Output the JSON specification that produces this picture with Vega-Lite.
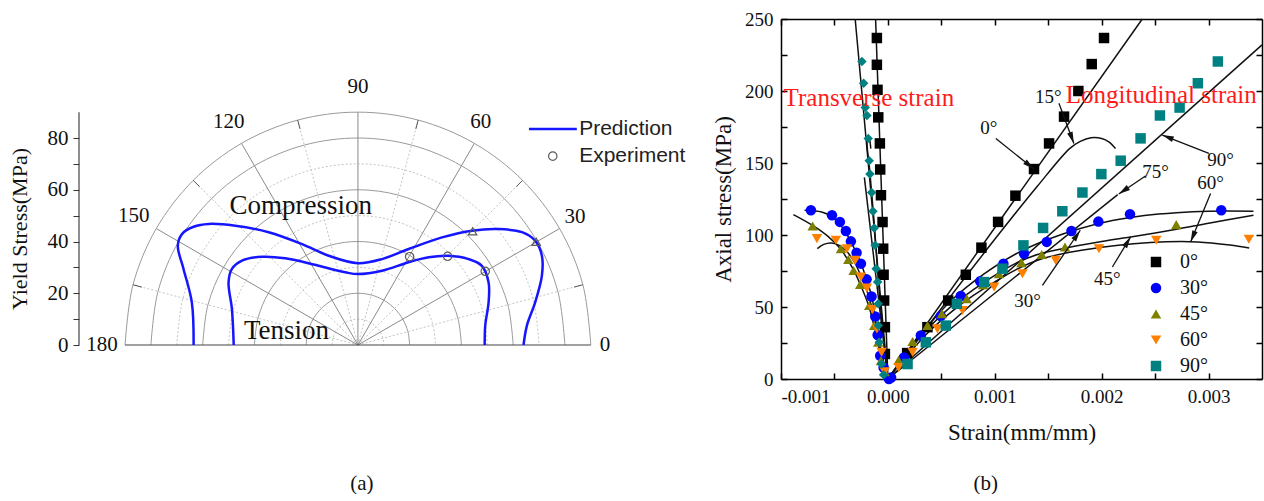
{
 "$schema": "https://vega.github.io/schema/vega-lite/v6.json",
 "background": "white",
 "padding": {"left": 8, "top": 10, "right": 0, "bottom": 0},
 "bounds": "flush",
 "spacing": 88,
 "config": {"view": {"stroke": null}, "font": "Liberation Serif"},
 "hconcat": [
  {
   "width": 614, "height": 326,
   "layer": [
    {
     "data": {"values": [
      {"r":10,"x":10,"y":0},{"r":10,"x":9.66,"y":2.59},{"r":10,"x":8.66,"y":5},{"r":10,"x":7.07,"y":7.07},{"r":10,"x":5,"y":8.66},{"r":10,"x":2.59,"y":9.66},{"r":10,"x":0,"y":10},{"r":10,"x":-2.59,"y":9.66},{"r":10,"x":-5,"y":8.66},{"r":10,"x":-7.07,"y":7.07},{"r":10,"x":-8.66,"y":5},{"r":10,"x":-9.66,"y":2.59},{"r":10,"x":-10,"y":0},
      {"r":30,"x":30,"y":0},{"r":30,"x":28.98,"y":7.76},{"r":30,"x":25.98,"y":15},{"r":30,"x":21.21,"y":21.21},{"r":30,"x":15,"y":25.98},{"r":30,"x":7.76,"y":28.98},{"r":30,"x":0,"y":30},{"r":30,"x":-7.76,"y":28.98},{"r":30,"x":-15,"y":25.98},{"r":30,"x":-21.21,"y":21.21},{"r":30,"x":-25.98,"y":15},{"r":30,"x":-28.98,"y":7.76},{"r":30,"x":-30,"y":0},
      {"r":50,"x":50,"y":0},{"r":50,"x":48.3,"y":12.94},{"r":50,"x":43.3,"y":25},{"r":50,"x":35.36,"y":35.36},{"r":50,"x":25,"y":43.3},{"r":50,"x":12.94,"y":48.3},{"r":50,"x":0,"y":50},{"r":50,"x":-12.94,"y":48.3},{"r":50,"x":-25,"y":43.3},{"r":50,"x":-35.36,"y":35.36},{"r":50,"x":-43.3,"y":25},{"r":50,"x":-48.3,"y":12.94},{"r":50,"x":-50,"y":0},
      {"r":70,"x":70,"y":0},{"r":70,"x":67.62,"y":18.12},{"r":70,"x":60.62,"y":35},{"r":70,"x":49.5,"y":49.5},{"r":70,"x":35,"y":60.62},{"r":70,"x":18.12,"y":67.62},{"r":70,"x":0,"y":70},{"r":70,"x":-18.12,"y":67.62},{"r":70,"x":-35,"y":60.62},{"r":70,"x":-49.5,"y":49.5},{"r":70,"x":-60.62,"y":35},{"r":70,"x":-67.62,"y":18.12},{"r":70,"x":-70,"y":0}
     ]},
     "mark": {"type": "line", "interpolate": "catmull-rom", "color": "#c4c4c4", "strokeWidth": 1, "strokeDash": [2, 2]},
     "encoding": {
      "x": {"field": "x", "type": "quantitative", "scale": {"domain": [-107.8, 129.5], "nice": false, "zero": false}, "axis": null},
      "y": {"field": "y", "type": "quantitative", "scale": {"domain": [0, 126], "nice": false, "zero": false},
       "axis": {"values": [0, 10, 20, 30, 40, 50, 60, 70, 80], "labelExpr": "datum.value % 20 === 0 ? datum.label : ''",
        "domain": false, "ticks": true, "tickSize": 6, "tickColor": "#333333", "tickWidth": 1, "grid": false,
        "labelPadding": 5, "labelFontSize": 21, "labelFont": "Liberation Serif", "labelColor": "#111111",
        "title": "Yield Stress(MPa)", "titleFont": "Liberation Serif", "titleFontSize": 22, "titleFontWeight": "normal",
        "titleColor": "#111111", "titlePadding": 16, "titleY": 209.5}},
      "detail": {"field": "r", "type": "nominal"}
     }
    },
    {
     "data": {"values": [
      {"r":20,"x":20,"y":0},{"r":20,"x":19.32,"y":5.18},{"r":20,"x":17.32,"y":10},{"r":20,"x":14.14,"y":14.14},{"r":20,"x":10,"y":17.32},{"r":20,"x":5.18,"y":19.32},{"r":20,"x":0,"y":20},{"r":20,"x":-5.18,"y":19.32},{"r":20,"x":-10,"y":17.32},{"r":20,"x":-14.14,"y":14.14},{"r":20,"x":-17.32,"y":10},{"r":20,"x":-19.32,"y":5.18},{"r":20,"x":-20,"y":0},
      {"r":40,"x":40,"y":0},{"r":40,"x":38.64,"y":10.35},{"r":40,"x":34.64,"y":20},{"r":40,"x":28.28,"y":28.28},{"r":40,"x":20,"y":34.64},{"r":40,"x":10.35,"y":38.64},{"r":40,"x":0,"y":40},{"r":40,"x":-10.35,"y":38.64},{"r":40,"x":-20,"y":34.64},{"r":40,"x":-28.28,"y":28.28},{"r":40,"x":-34.64,"y":20},{"r":40,"x":-38.64,"y":10.35},{"r":40,"x":-40,"y":0},
      {"r":60,"x":60,"y":0},{"r":60,"x":57.96,"y":15.53},{"r":60,"x":51.96,"y":30},{"r":60,"x":42.43,"y":42.43},{"r":60,"x":30,"y":51.96},{"r":60,"x":15.53,"y":57.96},{"r":60,"x":0,"y":60},{"r":60,"x":-15.53,"y":57.96},{"r":60,"x":-30,"y":51.96},{"r":60,"x":-42.43,"y":42.43},{"r":60,"x":-51.96,"y":30},{"r":60,"x":-57.96,"y":15.53},{"r":60,"x":-60,"y":0},
      {"r":80,"x":80,"y":0},{"r":80,"x":77.27,"y":20.71},{"r":80,"x":69.28,"y":40},{"r":80,"x":56.57,"y":56.57},{"r":80,"x":40,"y":69.28},{"r":80,"x":20.71,"y":77.27},{"r":80,"x":0,"y":80},{"r":80,"x":-20.71,"y":77.27},{"r":80,"x":-40,"y":69.28},{"r":80,"x":-56.57,"y":56.57},{"r":80,"x":-69.28,"y":40},{"r":80,"x":-77.27,"y":20.71},{"r":80,"x":-80,"y":0},
      {"r":90,"x":90,"y":0},{"r":90,"x":86.93,"y":23.29},{"r":90,"x":77.94,"y":45},{"r":90,"x":63.64,"y":63.64},{"r":90,"x":45,"y":77.94},{"r":90,"x":23.29,"y":86.93},{"r":90,"x":0,"y":90},{"r":90,"x":-23.29,"y":86.93},{"r":90,"x":-45,"y":77.94},{"r":90,"x":-63.64,"y":63.64},{"r":90,"x":-77.94,"y":45},{"r":90,"x":-86.93,"y":23.29},{"r":90,"x":-90,"y":0}
     ]},
     "mark": {"type": "line", "interpolate": "catmull-rom", "color": "#9a9a9a", "strokeWidth": 1},
     "encoding": {
      "x": {"field": "x", "type": "quantitative", "axis": null},
      "y": {"field": "y", "type": "quantitative"},
      "detail": {"field": "r", "type": "nominal"}
     }
    },
    {
     "data": {"values": [
      {"x": 0, "y": 0, "x2": 86.93, "y2": 23.29}, {"x": 0, "y": 0, "x2": 63.64, "y2": 63.64}, {"x": 0, "y": 0, "x2": 23.29, "y2": 86.93},
      {"x": 0, "y": 0, "x2": -23.29, "y2": 86.93}, {"x": 0, "y": 0, "x2": -63.64, "y2": 63.64}, {"x": 0, "y": 0, "x2": -86.93, "y2": 23.29}
     ]},
     "mark": {"type": "rule", "color": "#c4c4c4", "strokeWidth": 1, "strokeDash": [2, 2]},
     "encoding": {
      "x": {"field": "x", "type": "quantitative", "axis": null},
      "y": {"field": "y", "type": "quantitative"},
      "x2": {"field": "x2"},
      "y2": {"field": "y2"}
     }
    },
    {
     "data": {"values": [
      {"x": 0, "y": 0, "x2": 77.94, "y2": 45.0}, {"x": 0, "y": 0, "x2": 45.0, "y2": 77.94}, {"x": 0, "y": 0, "x2": 0, "y2": 90},
      {"x": 0, "y": 0, "x2": -45.0, "y2": 77.94}, {"x": 0, "y": 0, "x2": -77.94, "y2": 45.0}
     ]},
     "mark": {"type": "rule", "color": "#8a8a8a", "strokeWidth": 1},
     "encoding": {
      "x": {"field": "x", "type": "quantitative", "axis": null},
      "y": {"field": "y", "type": "quantitative"},
      "x2": {"field": "x2"},
      "y2": {"field": "y2"}
     }
    },
    {
     "data": {"values": [
      {"x": 83.55, "y": 22.38, "x2": 86.93, "y2": 23.29},
      {"x": 61.16, "y": 61.16, "x2": 63.64, "y2": 63.64},
      {"x": 22.38, "y": 83.55, "x2": 23.29, "y2": 86.93},
      {"x": -22.38, "y": 83.55, "x2": -23.29, "y2": 86.93},
      {"x": -61.16, "y": 61.16, "x2": -63.64, "y2": 63.64},
      {"x": -83.55, "y": 22.38, "x2": -86.93, "y2": 23.29}
     ]},
     "mark": {"type": "rule", "color": "#555555", "strokeWidth": 1},
     "encoding": {
      "x": {"field": "x", "type": "quantitative", "axis": null},
      "y": {"field": "y", "type": "quantitative"},
      "x2": {"field": "x2"},
      "y2": {"field": "y2"}
     }
    },
    {
     "data": {"values": [{"x": -90, "y": 0, "x2": 90, "y2": 0}, {"x": -107.8, "y": 0, "x2": -107.8, "y2": 90}]},
     "mark": {"type": "rule", "color": "#444444", "strokeWidth": 1.2},
     "encoding": {
      "x": {"field": "x", "type": "quantitative", "axis": null},
      "y": {"field": "y", "type": "quantitative"},
      "x2": {"field": "x2"},
      "y2": {"field": "y2"}
     }
    },
    {
     "data": {"values": [
      {"c": "C", "i": 0, "x": -63.5, "y": 0}, {"c": "C", "i": 1, "x": -64.2, "y": 16.5}, {"c": "C", "i": 2, "x": -67.4, "y": 29.4},
      {"c": "C", "i": 3, "x": -69.6, "y": 38.4}, {"c": "C", "i": 4, "x": -68.0, "y": 42.9}, {"c": "C", "i": 5, "x": -63.5, "y": 45.7},
      {"c": "C", "i": 6, "x": -57.7, "y": 46.8}, {"c": "C", "i": 7, "x": -47.4, "y": 46.1}, {"c": "C", "i": 8, "x": -34.5, "y": 43.6},
      {"c": "C", "i": 9, "x": -21.6, "y": 39.0}, {"c": "C", "i": 10, "x": -11.3, "y": 34.5}, {"c": "C", "i": 11, "x": 0, "y": 31.6},
      {"c": "C", "i": 12, "x": 9.3, "y": 33.2}, {"c": "C", "i": 13, "x": 19.6, "y": 37.1}, {"c": "C", "i": 14, "x": 32.5, "y": 41.6},
      {"c": "C", "i": 15, "x": 44.1, "y": 44.2}, {"c": "C", "i": 16, "x": 54.4, "y": 44.8}, {"c": "C", "i": 17, "x": 63.4, "y": 43.6},
      {"c": "C", "i": 18, "x": 68.5, "y": 40.3}, {"c": "C", "i": 19, "x": 71.1, "y": 34.5}, {"c": "C", "i": 20, "x": 71.1, "y": 26.8},
      {"c": "C", "i": 21, "x": 68.5, "y": 16.5}, {"c": "C", "i": 22, "x": 65.3, "y": 7.5}, {"c": "C", "i": 23, "x": 64.0, "y": 0},
      {"c": "T", "i": 0, "x": -48.0, "y": 0}, {"c": "T", "i": 1, "x": -48.7, "y": 13.9}, {"c": "T", "i": 2, "x": -50.0, "y": 24.2},
      {"c": "T", "i": 3, "x": -48.7, "y": 29.4}, {"c": "T", "i": 4, "x": -44.8, "y": 32.6}, {"c": "T", "i": 5, "x": -37.1, "y": 34.1},
      {"c": "T", "i": 6, "x": -28.1, "y": 33.5}, {"c": "T", "i": 7, "x": -15.2, "y": 30.6}, {"c": "T", "i": 8, "x": -4.9, "y": 28.1},
      {"c": "T", "i": 9, "x": 0, "y": 27.4}, {"c": "T", "i": 10, "x": 9.3, "y": 28.7}, {"c": "T", "i": 11, "x": 19.6, "y": 32.0},
      {"c": "T", "i": 12, "x": 27.3, "y": 33.9}, {"c": "T", "i": 13, "x": 34.7, "y": 34.5}, {"c": "T", "i": 14, "x": 42.8, "y": 33.2},
      {"c": "T", "i": 15, "x": 47.9, "y": 30.6}, {"c": "T", "i": 16, "x": 50.5, "y": 24.2}, {"c": "T", "i": 17, "x": 50.5, "y": 16.5},
      {"c": "T", "i": 18, "x": 49.2, "y": 7.5}, {"c": "T", "i": 19, "x": 49.0, "y": 0},
      {"c": "legend", "i": 0, "x": 66.1, "y": 83.5}, {"c": "legend", "i": 1, "x": 84.6, "y": 83.5}
     ]},
     "mark": {"type": "line", "interpolate": "catmull-rom", "color": "#1515ff", "strokeWidth": 2.5},
     "encoding": {
      "x": {"field": "x", "type": "quantitative", "axis": null},
      "y": {"field": "y", "type": "quantitative"},
      "detail": {"field": "c", "type": "nominal"},
      "order": {"field": "i", "type": "quantitative"}
     }
    },
    {
     "data": {"values": [{"x": 19.98, "y": 34.13}, {"x": 34.67, "y": 34.28}, {"x": 49.2, "y": 28.48}, {"x": 75.3, "y": 73.0}]},
     "mark": {"type": "point", "shape": "circle", "filled": false, "color": "#5a5a5a", "size": 70, "strokeWidth": 1.2, "opacity": 1},
     "encoding": {
      "x": {"field": "x", "type": "quantitative", "axis": null},
      "y": {"field": "y", "type": "quantitative"}
     }
    },
    {
     "data": {"values": [{"x": 44.33, "y": 43.94}, {"x": 68.91, "y": 39.92}]},
     "mark": {"type": "point", "shape": "triangle-up", "filled": false, "color": "#5a5a5a", "size": 70, "strokeWidth": 1.2, "opacity": 1},
     "encoding": {
      "x": {"field": "x", "type": "quantitative", "axis": null},
      "y": {"field": "y", "type": "quantitative"}
     }
    },
    {
     "data": {"values": [{"t": "Prediction", "x": 85.5, "y": 83.5}, {"t": "Experiment", "x": 85.5, "y": 73.0}]},
     "mark": {"type": "text", "font": "Liberation Sans", "fontSize": 21, "color": "#222222", "align": "left", "baseline": "middle"},
     "encoding": {
      "x": {"field": "x", "type": "quantitative", "axis": null},
      "y": {"field": "y", "type": "quantitative"},
      "text": {"field": "t", "type": "nominal"}
     }
    },
    {
     "data": {"values": [
      {"t": "0", "x": 95.5, "y": 0}, {"t": "30", "x": 83.9, "y": 49.5}, {"t": "60", "x": 47.5, "y": 86.2},
      {"t": "90", "x": 0, "y": 99.7}, {"t": "120", "x": -49.9, "y": 86.2}, {"t": "150", "x": -86.6, "y": 49.9},
      {"t": "180", "x": -98.9, "y": 0}
     ]},
     "mark": {"type": "text", "font": "Liberation Serif", "fontSize": 21, "color": "#111111", "align": "center", "baseline": "middle"},
     "encoding": {
      "x": {"field": "x", "type": "quantitative", "axis": null},
      "y": {"field": "y", "type": "quantitative"},
      "text": {"field": "t", "type": "nominal"}
     }
    },
    {
     "data": {"values": [{"t": "Compression", "x": -22.1, "y": 53.7}, {"t": "Tension", "x": -27.6, "y": 5.5}]},
     "mark": {"type": "text", "font": "Liberation Serif", "fontSize": 27, "color": "#111111", "align": "center", "baseline": "middle"},
     "encoding": {
      "x": {"field": "x", "type": "quantitative", "axis": null},
      "y": {"field": "y", "type": "quantitative"},
      "text": {"field": "t", "type": "nominal"}
     }
    },
    {
     "data": {"values": [{"t": "(a)", "x": 1.5, "y": -53.7}]},
     "mark": {"type": "text", "font": "Liberation Serif", "fontSize": 21, "color": "#111111", "align": "center", "baseline": "middle"},
     "encoding": {
      "x": {"field": "x", "type": "quantitative", "axis": null},
      "y": {"field": "y", "type": "quantitative"},
      "text": {"field": "t", "type": "nominal"}
     }
    }
   ]
  },
  {
   "width": 481, "height": 360,
   "resolve": {"axis": {"x": "independent", "y": "independent"}},
   "layer": [
    {
     "data": {"values": [
      {"c": "L0", "e": 0, "s": 0}, {"c": "L0", "e": 0.00238, "s": 250},
      {"c": "L15", "e": 0, "s": 0}, {"c": "L15", "e": 0.0005, "s": 49}, {"c": "L15", "e": 0.001, "s": 97},
      {"c": "L15", "e": 0.0014, "s": 134}, {"c": "L15", "e": 0.0017, "s": 160}, {"c": "L15", "e": 0.0018, "s": 165},
      {"c": "L15", "e": 0.0019, "s": 167.5}, {"c": "L15", "e": 0.002, "s": 167}, {"c": "L15", "e": 0.00207, "s": 164.5},
      {"c": "L15", "e": 0.00213, "s": 160},
      {"c": "L75", "e": 0, "s": 0}, {"c": "L75", "e": 0.00215, "s": 128},
      {"c": "L90", "e": 0, "s": 0}, {"c": "L90", "e": 0.0035, "s": 232},
      {"c": "L30", "e": 0, "s": 0}, {"c": "L30", "e": 0.0003, "s": 30}, {"c": "L30", "e": 0.0006, "s": 55},
      {"c": "L30", "e": 0.0009, "s": 73}, {"c": "L30", "e": 0.0012, "s": 87}, {"c": "L30", "e": 0.0015, "s": 97},
      {"c": "L30", "e": 0.0018, "s": 104.5}, {"c": "L30", "e": 0.0021, "s": 110}, {"c": "L30", "e": 0.0024, "s": 113.5},
      {"c": "L30", "e": 0.0027, "s": 115.5}, {"c": "L30", "e": 0.003, "s": 116.5}, {"c": "L30", "e": 0.00342, "s": 116.5},
      {"c": "L45", "e": 0, "s": 0}, {"c": "L45", "e": 0.0002, "s": 20}, {"c": "L45", "e": 0.0004, "s": 37},
      {"c": "L45", "e": 0.0006, "s": 51}, {"c": "L45", "e": 0.0008, "s": 62}, {"c": "L45", "e": 0.001, "s": 72},
      {"c": "L45", "e": 0.0012, "s": 80.5}, {"c": "L45", "e": 0.0014, "s": 86.5}, {"c": "L45", "e": 0.0017, "s": 91.5},
      {"c": "L45", "e": 0.002, "s": 95.5}, {"c": "L45", "e": 0.0023, "s": 99}, {"c": "L45", "e": 0.0027, "s": 104},
      {"c": "L45", "e": 0.003, "s": 108.2}, {"c": "L45", "e": 0.00342, "s": 113.7},
      {"c": "L60", "e": 0, "s": 0}, {"c": "L60", "e": 0.0002, "s": 18}, {"c": "L60", "e": 0.0004, "s": 34},
      {"c": "L60", "e": 0.0006, "s": 47}, {"c": "L60", "e": 0.0008, "s": 58}, {"c": "L60", "e": 0.001, "s": 67.5},
      {"c": "L60", "e": 0.0012, "s": 76}, {"c": "L60", "e": 0.0014, "s": 82.5}, {"c": "L60", "e": 0.0017, "s": 88},
      {"c": "L60", "e": 0.002, "s": 91.5}, {"c": "L60", "e": 0.0023, "s": 94}, {"c": "L60", "e": 0.0026, "s": 95.3},
      {"c": "L60", "e": 0.0029, "s": 95.2}, {"c": "L60", "e": 0.0032, "s": 93}, {"c": "L60", "e": 0.00338, "s": 91},
      {"c": "T0", "e": 0, "s": 0}, {"c": "T0", "e": -0.000115, "s": 250},
      {"c": "T90", "e": 0, "s": 0}, {"c": "T90", "e": -0.000306, "s": 250},
      {"c": "T75", "e": 0, "s": 0}, {"c": "T75", "e": -0.00022, "s": 140},
      {"c": "T30", "e": 0, "s": 0}, {"c": "T30", "e": -0.00007, "s": 16}, {"c": "T30", "e": -0.0001, "s": 30},
      {"c": "T30", "e": -0.00012, "s": 43}, {"c": "T30", "e": -0.00015, "s": 57}, {"c": "T30", "e": -0.0002, "s": 69},
      {"c": "T30", "e": -0.00025, "s": 80}, {"c": "T30", "e": -0.00031, "s": 90}, {"c": "T30", "e": -0.00038, "s": 100},
      {"c": "T30", "e": -0.00045, "s": 107.5}, {"c": "T30", "e": -0.00053, "s": 113}, {"c": "T30", "e": -0.00062, "s": 116},
      {"c": "T30", "e": -0.00078, "s": 117.2},
      {"c": "T45", "e": 0, "s": 0}, {"c": "T45", "e": -0.00005, "s": 12}, {"c": "T45", "e": -0.00009, "s": 25},
      {"c": "T45", "e": -0.00013, "s": 37}, {"c": "T45", "e": -0.00018, "s": 51}, {"c": "T45", "e": -0.00026, "s": 66},
      {"c": "T45", "e": -0.00033, "s": 77}, {"c": "T45", "e": -0.00044, "s": 90}, {"c": "T45", "e": -0.00056, "s": 99},
      {"c": "T45", "e": -0.0007, "s": 106.5}, {"c": "T45", "e": -0.000884, "s": 114.2},
      {"c": "T60", "e": 0, "s": 0}, {"c": "T60", "e": -0.00006, "s": 18.6}, {"c": "T60", "e": -0.0001, "s": 34},
      {"c": "T60", "e": -0.00014, "s": 47}, {"c": "T60", "e": -0.0002, "s": 62}, {"c": "T60", "e": -0.00026, "s": 73},
      {"c": "T60", "e": -0.00032, "s": 82}, {"c": "T60", "e": -0.00039, "s": 89}, {"c": "T60", "e": -0.00046, "s": 93},
      {"c": "T60", "e": -0.00053, "s": 94.5}, {"c": "T60", "e": -0.0006, "s": 93.5}, {"c": "T60", "e": -0.00066, "s": 90.5}
     ]},
     "mark": {"type": "line", "interpolate": "catmull-rom", "color": "#111111", "strokeWidth": 1.5},
     "encoding": {
      "x": {"field": "e", "type": "quantitative", "scale": {"domain": [-0.001, 0.0035], "nice": false, "zero": false},
       "axis": {"orient": "bottom", "values": [-0.001, -0.0005, 0, 0.0005, 0.001, 0.0015, 0.002, 0.0025, 0.003],
        "labelExpr": "abs(round(datum.value*1000) - datum.value*1000) < 0.01 ? replace(format(datum.value, '.3f'), '\u2212', '-') : ''",
        "grid": false, "tickSize": -6, "tickWidth": 1.5, "tickColor": "#000000", "domainColor": "#000000", "domainWidth": 1.5,
        "labelPadding": 14, "labelFont": "Liberation Serif", "labelFontSize": 19, "labelColor": "#111111",
        "title": "Strain(mm/mm)", "titleFont": "Liberation Serif", "titleFontSize": 23, "titleFontWeight": "normal",
        "titleColor": "#111111", "titlePadding": 15}},
      "y": {"field": "s", "type": "quantitative", "scale": {"domain": [0, 250], "nice": false, "zero": false},
       "axis": {"orient": "left", "values": [0, 25, 50, 75, 100, 125, 150, 175, 200, 225, 250],
        "labelExpr": "datum.value % 50 === 0 ? datum.label : ''",
        "grid": false, "tickSize": -6, "tickWidth": 1.5, "tickColor": "#000000", "domainColor": "#000000", "domainWidth": 1.5,
        "labelPadding": 14, "labelFont": "Liberation Serif", "labelFontSize": 19, "labelColor": "#111111",
        "title": "Axial stress(MPa)", "titleFont": "Liberation Serif", "titleFontSize": 23, "titleFontWeight": "normal",
        "titleColor": "#111111", "titlePadding": 9}},
      "detail": {"field": "c", "type": "nominal"}
     }
    },
    {
     "data": {"values": [
      {"i": 0, "e": 0, "s": 0}, {"i": 1, "e": -0.00008, "s": 60}, {"i": 2, "e": -0.00013, "s": 110},
      {"i": 3, "e": -0.00017, "s": 145}, {"i": 4, "e": -0.000195, "s": 163}, {"i": 5, "e": -0.00019, "s": 168},
      {"i": 6, "e": -0.000175, "s": 167}, {"i": 7, "e": -0.00016, "s": 160}
     ]},
     "mark": {"type": "line", "interpolate": "catmull-rom", "color": "#111111", "strokeWidth": 1.5},
     "encoding": {
      "x": {"field": "e", "type": "quantitative", "axis": null},
      "y": {"field": "s", "type": "quantitative", "axis": null},
      "order": {"field": "i", "type": "quantitative"}
     }
    },
    {
     "data": {"values": [
      {"g": "0°", "e": 0.00018, "s": 18}, {"g": "0°", "e": 0.00037, "s": 36}, {"g": "0°", "e": 0.000564, "s": 54.5},
      {"g": "0°", "e": 0.000729, "s": 72.4}, {"g": "0°", "e": 0.000875, "s": 91.2}, {"g": "0°", "e": 0.001031, "s": 109.1},
      {"g": "0°", "e": 0.001193, "s": 127.3}, {"g": "0°", "e": 0.001367, "s": 145.8}, {"g": "0°", "e": 0.001508, "s": 163.6},
      {"g": "0°", "e": 0.001648, "s": 182.2}, {"g": "0°", "e": 0.001782, "s": 200}, {"g": "0°", "e": 0.001907, "s": 218.7},
      {"g": "0°", "e": 0.002022, "s": 236.8},
      {"g": "0°", "e": -0.000028, "s": 17.4}, {"g": "0°", "e": -0.000028, "s": 36}, {"g": "0°", "e": -0.000035, "s": 54.5},
      {"g": "0°", "e": -0.00004, "s": 72.4}, {"g": "0°", "e": -0.000044, "s": 90.5}, {"g": "0°", "e": -0.00005, "s": 109},
      {"g": "0°", "e": -0.000065, "s": 127.6}, {"g": "0°", "e": -0.000072, "s": 145.5}, {"g": "0°", "e": -0.000075, "s": 163.6},
      {"g": "0°", "e": -0.00009, "s": 181.7}, {"g": "0°", "e": -0.000097, "s": 200.8}, {"g": "0°", "e": -0.000103, "s": 218.2},
      {"g": "0°", "e": -0.000103, "s": 236.8},
      {"g": "30°", "e": 0.00003, "s": 1}, {"g": "30°", "e": 0.00015, "s": 15}, {"g": "30°", "e": 0.000308, "s": 30.2},
      {"g": "30°", "e": 0.000495, "s": 43.7}, {"g": "30°", "e": 0.000682, "s": 57.6}, {"g": "30°", "e": 0.000863, "s": 67.8},
      {"g": "30°", "e": 0.001081, "s": 80.1}, {"g": "30°", "e": 0.001274, "s": 87}, {"g": "30°", "e": 0.001486, "s": 95.2},
      {"g": "30°", "e": 0.001717, "s": 102.8}, {"g": "30°", "e": 0.001969, "s": 109.3}, {"g": "30°", "e": 0.002265, "s": 114.4},
      {"g": "30°", "e": 0.003119, "s": 117.2},
      {"g": "30°", "e": 0.00001, "s": 0}, {"g": "30°", "e": -0.00004, "s": 8}, {"g": "30°", "e": -0.000072, "s": 16.2},
      {"g": "30°", "e": -0.000096, "s": 30.6}, {"g": "30°", "e": -0.000118, "s": 43.4}, {"g": "30°", "e": -0.000153, "s": 57.3},
      {"g": "30°", "e": -0.000199, "s": 69.2}, {"g": "30°", "e": -0.000252, "s": 80.1}, {"g": "30°", "e": -0.000293, "s": 87.7},
      {"g": "30°", "e": -0.000346, "s": 95.6}, {"g": "30°", "e": -0.000393, "s": 102.8}, {"g": "30°", "e": -0.000449, "s": 109.1},
      {"g": "30°", "e": -0.000523, "s": 113.7}, {"g": "30°", "e": -0.00072, "s": 117.2},
      {"g": "45°", "e": 0.0001, "s": 13}, {"g": "45°", "e": 0.000231, "s": 26}, {"g": "45°", "e": 0.000371, "s": 37.1},
      {"g": "45°", "e": 0.000505, "s": 45.3}, {"g": "45°", "e": 0.000738, "s": 55.7}, {"g": "45°", "e": 0.00089, "s": 65.5},
      {"g": "45°", "e": 0.00104, "s": 73.1}, {"g": "45°", "e": 0.00125, "s": 80.8}, {"g": "45°", "e": 0.001439, "s": 86.4},
      {"g": "45°", "e": 0.001657, "s": 91.7}, {"g": "45°", "e": 0.002698, "s": 107.2},
      {"g": "45°", "e": -0.00003, "s": 5}, {"g": "45°", "e": -0.000065, "s": 12.7}, {"g": "45°", "e": -0.00009, "s": 25.5},
      {"g": "45°", "e": -0.000128, "s": 37.1}, {"g": "45°", "e": -0.000175, "s": 51}, {"g": "45°", "e": -0.000259, "s": 65.7},
      {"g": "45°", "e": -0.000321, "s": 75.4}, {"g": "45°", "e": -0.00037, "s": 83}, {"g": "45°", "e": -0.000439, "s": 90.5},
      {"g": "45°", "e": -0.000704, "s": 106.3},
      {"g": "60°", "e": 0.0001, "s": 8}, {"g": "60°", "e": 0.000231, "s": 18.6}, {"g": "60°", "e": 0.000464, "s": 34.8},
      {"g": "60°", "e": 0.000698, "s": 47.6}, {"g": "60°", "e": 0.000994, "s": 63.9}, {"g": "60°", "e": 0.001259, "s": 73.1},
      {"g": "60°", "e": 0.00157, "s": 82.4}, {"g": "60°", "e": 0.001975, "s": 90.5}, {"g": "60°", "e": 0.002511, "s": 96.3},
      {"g": "60°", "e": 0.003377, "s": 97},
      {"g": "60°", "e": -0.00003, "s": 5}, {"g": "60°", "e": -0.000059, "s": 18.6}, {"g": "60°", "e": -0.000103, "s": 34.8},
      {"g": "60°", "e": -0.000143, "s": 48.3}, {"g": "60°", "e": -0.000196, "s": 63.1}, {"g": "60°", "e": -0.000252, "s": 70.8},
      {"g": "60°", "e": -0.000306, "s": 82.4}, {"g": "60°", "e": -0.000383, "s": 90.5}, {"g": "60°", "e": -0.000486, "s": 96.3},
      {"g": "60°", "e": -0.000664, "s": 97.5},
      {"g": "90°", "e": 0.000184, "s": 10.4}, {"g": "90°", "e": 0.000355, "s": 25.5}, {"g": "90°", "e": 0.000542, "s": 37.1},
      {"g": "90°", "e": 0.000645, "s": 52.2}, {"g": "90°", "e": 0.0009, "s": 67.3}, {"g": "90°", "e": 0.001072, "s": 76.6},
      {"g": "90°", "e": 0.001268, "s": 92.8}, {"g": "90°", "e": 0.001452, "s": 104.9}, {"g": "90°", "e": 0.001632, "s": 116.5},
      {"g": "90°", "e": 0.00182, "s": 129.5}, {"g": "90°", "e": 0.001997, "s": 142.3}, {"g": "90°", "e": 0.002178, "s": 151.6},
      {"g": "90°", "e": 0.002364, "s": 167.1}, {"g": "90°", "e": 0.002545, "s": 183}, {"g": "90°", "e": 0.002729, "s": 188.5},
      {"g": "90°", "e": 0.0029, "s": 205.4}, {"g": "90°", "e": 0.003087, "s": 220.5}
     ]},
     "mark": {"type": "point", "filled": true, "size": 110, "opacity": 1},
     "encoding": {
      "x": {"field": "e", "type": "quantitative",
       "axis": {"orient": "top", "values": [-0.001, -0.0005, 0, 0.0005, 0.001, 0.0015, 0.002, 0.0025, 0.003], "labels": false,
        "grid": false, "tickSize": -6, "tickWidth": 1.5, "tickColor": "#000000", "domainColor": "#000000", "domainWidth": 1.5, "title": null}},
      "y": {"field": "s", "type": "quantitative",
       "axis": {"orient": "right", "values": [0, 25, 50, 75, 100, 125, 150, 175, 200, 225, 250], "labels": false,
        "grid": false, "tickSize": -6, "tickWidth": 1.5, "tickColor": "#000000", "domainColor": "#000000", "domainWidth": 1.5, "title": null}},
      "color": {"field": "g", "type": "nominal",
       "scale": {"domain": ["0°", "30°", "45°", "60°", "90°"], "range": ["#000000", "#0000ff", "#808000", "#ff8000", "#008080"]},
       "legend": {"orient": "none", "legendX": 1067, "legendY": 233, "title": null, "labelFont": "Liberation Serif", "labelFontSize": 20,
        "labelColor": "#111111", "symbolSize": 110, "labelOffset": 14, "rowPadding": 6, "padding": 0}},
      "shape": {"field": "g", "type": "nominal",
       "scale": {"domain": ["0°", "30°", "45°", "60°", "90°"], "range": ["square", "circle", "triangle-up", "triangle-down", "square"]},
       "legend": {"orient": "none", "legendX": 1067, "legendY": 233, "title": null, "labelFont": "Liberation Serif", "labelFontSize": 20,
        "labelColor": "#111111", "symbolSize": 110, "labelOffset": 14, "rowPadding": 6, "padding": 0}}
     }
    },
    {
     "data": {"values": [
      {"e": -0.00004, "s": 3}, {"e": -0.00006, "s": 10.4}, {"e": -0.00008, "s": 25.5}, {"e": -0.00009, "s": 37.1},
      {"e": -0.00009, "s": 52.2}, {"e": -0.000096, "s": 67.3}, {"e": -0.00011, "s": 76.6}, {"e": -0.00012, "s": 92.8},
      {"e": -0.000128, "s": 104.9}, {"e": -0.00014, "s": 116.5}, {"e": -0.000152, "s": 129.5}, {"e": -0.000168, "s": 142.3},
      {"e": -0.000175, "s": 151.6}, {"e": -0.000184, "s": 167.1}, {"e": -0.000196, "s": 183}, {"e": -0.000212, "s": 188.5},
      {"e": -0.000227, "s": 205.4}, {"e": -0.000243, "s": 220.5}
     ]},
     "mark": {"type": "point", "shape": "diamond", "filled": true, "color": "#008080", "size": 90, "opacity": 1},
     "encoding": {
      "x": {"field": "e", "type": "quantitative", "axis": null},
      "y": {"field": "s", "type": "quantitative", "axis": null}
     }
    },
    {
     "data": {"values": [
      {"fx": 0.0016, "fy": 191.5, "tx": 0.00174, "ty": 163.6},
      {"fx": 0.00101, "fy": 167, "tx": 0.001367, "ty": 145.8},
      {"fx": 0.003003, "fy": 156.7, "tx": 0.002567, "ty": 169.4},
      {"fx": 0.00241, "fy": 141, "tx": 0.00216, "ty": 128.5},
      {"fx": 0.003019, "fy": 128.8, "tx": 0.002832, "ty": 95.2},
      {"fx": 0.0021, "fy": 77.8, "tx": 0.002271, "ty": 98.7},
      {"fx": 0.001446, "fy": 65, "tx": 0.0018, "ty": 103.3}
     ]},
     "mark": {"type": "rule", "color": "#111111", "strokeWidth": 1.3},
     "encoding": {
      "x": {"field": "fx", "type": "quantitative", "axis": null},
      "y": {"field": "fy", "type": "quantitative", "axis": null},
      "x2": {"field": "tx"},
      "y2": {"field": "ty"}
     }
    },
    {
     "data": {"values": [
      {"fx": 0.0016, "fy": 191.5, "tx": 0.00174, "ty": 163.6},
      {"fx": 0.00101, "fy": 167, "tx": 0.001367, "ty": 145.8},
      {"fx": 0.003003, "fy": 156.7, "tx": 0.002567, "ty": 169.4},
      {"fx": 0.00241, "fy": 141, "tx": 0.00216, "ty": 128.5},
      {"fx": 0.003019, "fy": 128.8, "tx": 0.002832, "ty": 95.2},
      {"fx": 0.0021, "fy": 77.8, "tx": 0.002271, "ty": 98.7},
      {"fx": 0.001446, "fy": 65, "tx": 0.0018, "ty": 103.3}
     ]},
     "mark": {"type": "point", "shape": "M0,0L-0.55,2.2L0.55,2.2Z", "filled": true, "color": "#111111", "size": 110, "opacity": 1,
      "angle": {"expr": "atan2((datum.tx - datum.fx) * 106889, (datum.ty - datum.fy) * 1.44) * 180 / PI"}},
     "encoding": {
      "x": {"field": "tx", "type": "quantitative", "axis": null},
      "y": {"field": "ty", "type": "quantitative", "axis": null}
     }
    },
    {
     "data": {"values": [
      {"t": "15°", "e": 0.0015, "s": 195.6}, {"t": "0°", "e": 0.000944, "s": 174}, {"t": "90°", "e": 0.003112, "s": 152},
      {"t": "75°", "e": 0.002505, "s": 143.9}, {"t": "60°", "e": 0.003019, "s": 135.8}, {"t": "45°", "e": 0.002053, "s": 69.6},
      {"t": "30°", "e": 0.001306, "s": 54.5}
     ]},
     "mark": {"type": "text", "font": "Liberation Serif", "fontSize": 19, "color": "#111111", "align": "center", "baseline": "middle"},
     "encoding": {
      "x": {"field": "e", "type": "quantitative", "axis": null},
      "y": {"field": "s", "type": "quantitative", "axis": null},
      "text": {"field": "t", "type": "nominal"}
     }
    },
    {
     "data": {"values": [
      {"t": "Transverse strain", "e": -0.000178, "s": 195}, {"t": "Longitudinal strain", "e": 0.002558, "s": 197.3}
     ]},
     "mark": {"type": "text", "font": "Liberation Serif", "fontSize": 25, "color": "#ff1a1a", "align": "center", "baseline": "middle"},
     "encoding": {
      "x": {"field": "e", "type": "quantitative", "axis": null},
      "y": {"field": "s", "type": "quantitative", "axis": null},
      "text": {"field": "t", "type": "nominal"}
     }
    },
    {
     "data": {"values": [{"t": "(b)", "e": 0.000916, "s": -72.9}]},
     "mark": {"type": "text", "font": "Liberation Serif", "fontSize": 21, "color": "#111111", "align": "center", "baseline": "middle"},
     "encoding": {
      "x": {"field": "e", "type": "quantitative", "axis": null},
      "y": {"field": "s", "type": "quantitative", "axis": null},
      "text": {"field": "t", "type": "nominal"}
     }
    }
   ]
  }
 ]
}
